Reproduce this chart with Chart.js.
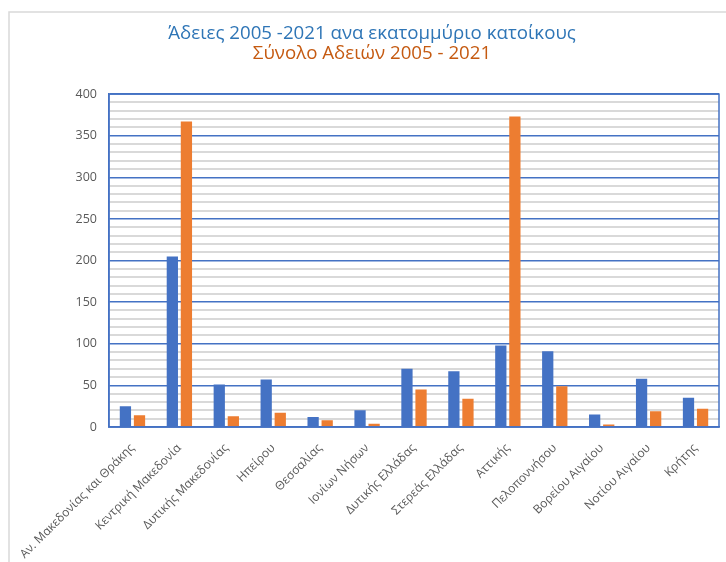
<!DOCTYPE html>
<html>
<head>
<meta charset="utf-8">
<script src="https://cdn.jsdelivr.net/npm/chart.js@4/dist/chart.umd.min.js"></script>
<style>
  html, body { margin: 0; padding: 0; background: #fff; }
  #wrap { position: relative; width: 726px; height: 562px; }
</style>
</head>
<body>
<div id="wrap"><canvas id="chart" width="726" height="562"></canvas></div>
<script>
const regions = [
  "Αν. Μακεδονίας και Θράκης", "Κεντρική Μακεδονία", "Δυτικής Μακεδονίας",
  "Ηπείρου", "Θεσσαλίας", "Ιονίων Νήσων", "Δυτικής Ελλάδας", "Στερεάς Ελλάδας",
  "Αττικής", "Πελοποννήσου", "Βορείου Αιγαίου", "Νοτίου Αιγαίου", "Κρήτης"
];
// άδειες ανά εκατομμύριο κατοίκους
const perMillion = [25, 205, 51, 57, 12, 20, 70, 67, 98, 91, 15, 58, 35];
// σύνολο αδειών
const totals = [14, 367, 13, 17, 8, 4, 45, 34, 373, 49, 3, 19, 22];

const yMax = 400;
const yStep = 10;

const BLUE = "#4472C4";
const ORANGE = "#ED7D31";
const TEXT = "#595959";

// light grey frame + blue plot border
const framePlugin = {
  id: "frame",
  beforeDraw(chart) {
    const ctx = chart.ctx;
    ctx.save();
    ctx.strokeStyle = "#d9d9d9";
    ctx.lineWidth = 1.5;
    ctx.beginPath();
    ctx.moveTo(9, 562);
    ctx.lineTo(9, 12);
    ctx.lineTo(726, 12);
    ctx.stroke();
    ctx.restore();
  },
  afterDraw(chart) {
    const { left, right, top, bottom } = chart.chartArea;
    const ctx = chart.ctx;
    ctx.save();
    ctx.strokeStyle = BLUE;
    ctx.lineWidth = 1.5;
    ctx.strokeRect(left, top, right - left, bottom - top);
    ctx.restore();
  }
};

new Chart(document.getElementById("chart"), {
  type: "bar",
  data: {
    labels: regions,
    datasets: [
      {
        label: "Άδειες 2005 -2021 ανα εκατομμύριο κατοίκους",
        data: perMillion,
        backgroundColor: BLUE,
        barPercentage: 0.8,
        categoryPercentage: 0.6
      },
      {
        label: "Σύνολο Αδειών 2005 - 2021",
        data: totals,
        backgroundColor: ORANGE,
        barPercentage: 0.8,
        categoryPercentage: 0.6
      }
    ]
  },
  options: {
    responsive: false,
    animation: false,
    // left padding only moves the title centre; the y axis width makes up the rest
    layout: { padding: { left: 25, right: 7, top: 0, bottom: 0 } },
    plugins: {
      legend: { display: false },
      tooltip: { enabled: false },
      title: {
        display: true,
        text: "Άδειες 2005 -2021 ανα εκατομμύριο κατοίκους",
        color: "#2E75B6",
        font: { family: "'Open Sans', sans-serif", size: 18.7, weight: "normal", lineHeight: 1.1 },
        padding: { top: 23, bottom: 0 }
      },
      subtitle: {
        display: true,
        text: "Σύνολο Αδειών 2005 - 2021",
        color: "#C55A11",
        font: { family: "'Open Sans', sans-serif", size: 18.7, weight: "normal", lineHeight: 1.1 },
        padding: { top: 0, bottom: 30 }
      }
    },
    scales: {
      x: {
        grid: { display: false },
        border: { color: BLUE, width: 1.5 },
        ticks: {
          color: TEXT,
          font: { family: "'Open Sans', sans-serif", size: 12 },
          minRotation: 45,
          maxRotation: 45,
          autoSkip: false,
          padding: 6
        },
        afterFit(scale) { scale.height = 135; }
      },
      y: {
        min: 0,
        max: yMax,
        border: { color: BLUE, width: 1.5 },
        grid: {
          drawTicks: false,
          color: ctx => (ctx.tick && ctx.tick.value % 50 === 0) ? BLUE : "#d9d9d9",
          lineWidth: ctx => (ctx.tick && ctx.tick.value % 50 === 0) ? 1.5 : 2
        },
        ticks: {
          stepSize: yStep,
          autoSkip: false,
          color: TEXT,
          padding: 12,
          font: { family: "'Open Sans', sans-serif", size: 12.5 },
          callback: v => (v % 50 === 0 ? v : "")
        },
        afterFit(scale) { scale.width = 84; }
      }
    }
  },
  plugins: [framePlugin]
});
</script>
</body>
</html>
